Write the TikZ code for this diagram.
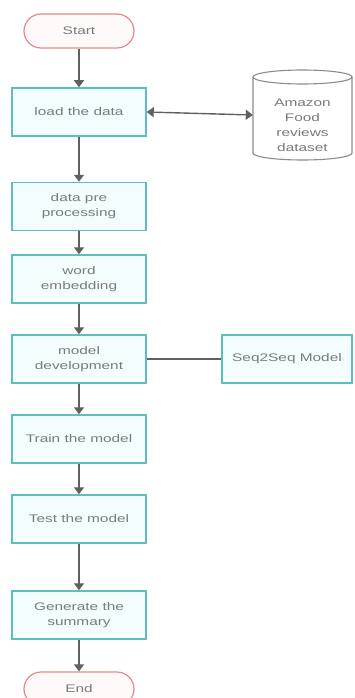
\documentclass[tikz,border=0pt]{standalone}
\usepackage{fontspec}
\setmainfont[FakeStretch=1.4]{Liberation Sans}
\usetikzlibrary{arrows.meta}
\definecolor{boxline}{HTML}{5CBFBC}
\definecolor{boxfill}{HTML}{F3FDFD}
\definecolor{termline}{HTML}{E38A8A}
\definecolor{termfill}{HTML}{FFFAFA}
\definecolor{flowline}{HTML}{606060}
\definecolor{labeltext}{HTML}{7A7A7A}
\definecolor{dbline}{HTML}{8C8C8C}
\tikzset{
  every node/.style={font=\fontsize{11}{15}\selectfont, text=labeltext, align=center},
  stepbox/.style={draw=boxline, fill=boxfill, line width=1.5pt, minimum width=134pt, minimum height=48pt, inner sep=2pt},
  terminal/.style={draw=termline, fill=termfill, line width=1.2pt, rounded corners=17pt, minimum width=110pt, minimum height=34pt},
  flow/.style={draw=flowline, line width=1.4pt, -{Triangle[width=10pt,length=7pt]}},
  link/.style={draw=flowline, line width=1.2pt}
}
\begin{document}
\begin{tikzpicture}[x=1pt,y=-1pt]
\useasboundingbox (0,0) rectangle (354,698);

% main column
\node[terminal] (start) at (79,31) {Start};
\node[stepbox] (load) at (79,112) {load the data};
\node[stepbox] (prep) at (79,206.5) {data pre\\processing};
\node[stepbox] (embed) at (79,279) {word\\embedding};
\node[stepbox] (model) at (79,359) {model\\development};
\node[stepbox] (train) at (79,439) {Train the model};
\node[stepbox] (test) at (79,519) {Test the model};
\node[stepbox] (gen) at (79,615) {Generate the\\summary};
\node[terminal] (end) at (79,689) {End};

% data source drawn as a cylinder
\filldraw[draw=dbline, fill=white, line width=1.1pt]
  (253,77) -- (253,153) arc[start angle=180, end angle=0, x radius=49.5, y radius=7] -- (352,77);
\draw[draw=dbline, line width=1.1pt] (302.5,77) ellipse [x radius=49.5, y radius=7];
\node[minimum width=99pt, minimum height=90pt, inner sep=0pt] (db) at (302.5,115) {};
\node at (302.5,125) {Amazon\\Food\\reviews\\dataset};

% model type
\node[stepbox, minimum width=130pt] (seq) at (287,359) {Seq2Seq Model};

% connectors
\draw[flow] (start) -- (load);
\draw[flow] (load) -- (prep);
\draw[flow] (prep) -- (embed);
\draw[flow] (embed) -- (model);
\draw[flow] (model) -- (train);
\draw[flow] (train) -- (test);
\draw[flow] (test) -- (gen);
\draw[flow] (gen) -- (end);
\draw[flow, {Triangle[width=10pt,length=7pt]}-{Triangle[width=10pt,length=7pt]}] (load.east) -- (db.west);
\draw[link] (model) -- (seq);
\end{tikzpicture}
\end{document}
